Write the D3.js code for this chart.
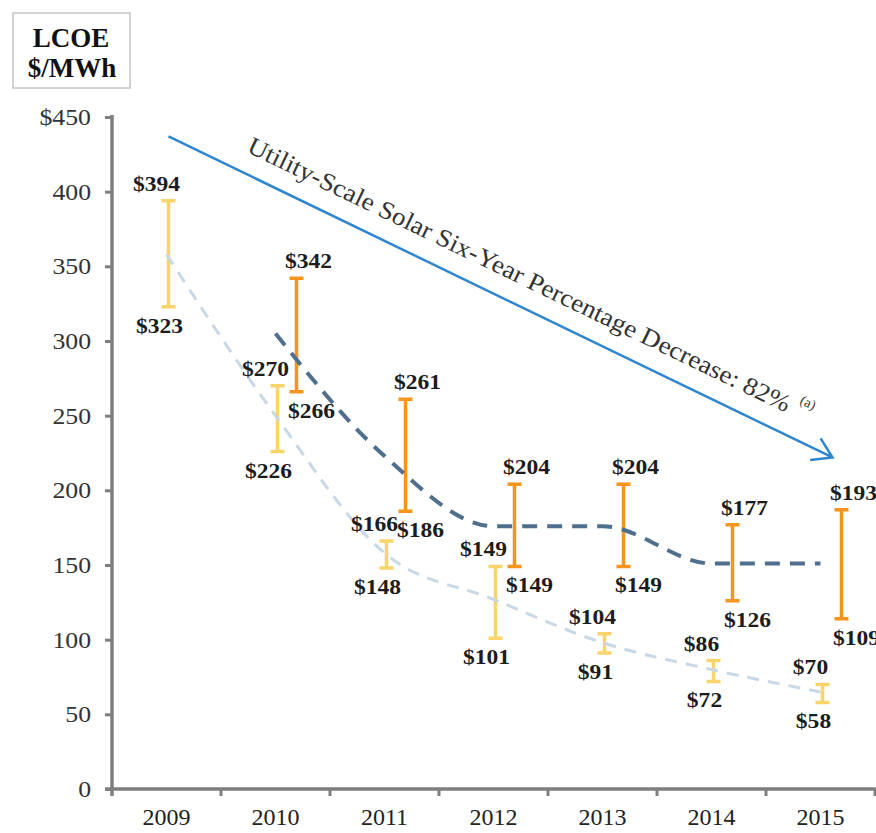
<!DOCTYPE html>
<head>
<meta charset="utf-8">
<script src="https://d3js.org/d3.v7.min.js"></script>
</head>
<style>
body { margin: 0; background: #fff; }
text { font-family: "Liberation Serif", "Times New Roman", serif; }
.lbl { font-weight: bold; font-size: 21px; fill: #1c1c1c; }
.tick text { font-size: 23px; fill: #333; }
.xaxis .tick text { font-size: 24px; fill: #222; }
.bar { stroke-width: 3.5px; fill: none; }
#yellow .bar { stroke: #f9d46a; }
#orange .bar { stroke: #f7941d; }
.trend { fill: none; }
#lightline { stroke: #c8d8e6; stroke-width: 3px; stroke-dasharray: 12 9; }
#darkline { stroke: #4f6f8c; stroke-width: 4px; stroke-dasharray: 15 10; }
</style>
<body>
<script>
var years = ["2009", "2010", "2011", "2012", "2013", "2014", "2015"];
// bar ends as drawn
var yellowHigh = [394, 270, 166, 149, 104, 86, 70];
var yellowLow  = [323, 226, 148, 101, 91, 72, 58];
var orangeHigh = [null, 342, 261, 204, 204, 177, 187];
var orangeLow  = [null, 266, 186, 149, 149, 126, 114];
// printed labels
var yellowHighText = ["$394", "$270", "$166", "$149", "$104", "$86", "$70"];
var yellowLowText  = ["$323", "$226", "$148", "$101", "$91", "$72", "$58"];
var orangeHighText = [null, "$342", "$261", "$204", "$204", "$177", "$193"];
var orangeLowText  = [null, "$266", "$186", "$149", "$149", "$126", "$109"];
// dashed trend lines
var lightTrend = [358, 250, 158, 127, 98, 80, 65];
var darkTrend  = [null, 305, 223, 176, 176, 151, 151];
var yTicks = [0, 50, 100, 150, 200, 250, 300, 350, 400, 450];
var yTickText = ["0", "50", "100", "150", "200", "250", "300", "350", "400", "$450"];
var arrowNote = "Utility-Scale Solar Six-Year Percentage Decrease: 82%";

var margin = {top: 117, right: 0, bottom: 44, left: 112},
    width = 876 - margin.left - margin.right,
    height = 833 - margin.top - margin.bottom;

var x = d3.scaleBand().domain(years).range([0, 763]);
var y = d3.scaleLinear().domain([0, 450]).range([height, 0]);
function cx(i) { return x(years[i]) + x.bandwidth() / 2; }

function widen(sel, k) {
  sel.each(function() {
    var L = this.getComputedTextLength();
    if (L > 0) d3.select(this).attr("textLength", L * k).attr("lengthAdjust", "spacingAndGlyphs");
  });
}

var root = d3.select("body").append("svg")
    .attr("width", 876)
    .attr("height", 833);

// LCOE box
root.append("rect")
    .attr("x", 13).attr("y", 13).attr("width", 117).attr("height", 75)
    .attr("fill", "none").attr("stroke", "#c4c4c4").attr("stroke-width", 1.5);
root.append("text").attr("x", 71).attr("y", 47).attr("text-anchor", "middle")
    .style("font-weight", "bold").style("font-size", "27px").attr("fill", "#111").text("LCOE");
root.append("text").attr("x", 72).attr("y", 77).attr("text-anchor", "middle")
    .style("font-weight", "bold").style("font-size", "27px").attr("fill", "#111").text("$/MWh");

var svg = root.append("g")
    .attr("transform", "translate(" + margin.left + "," + margin.top + ")");

// axes
var yAxis = svg.append("g")
    .call(d3.axisLeft(y).tickValues(yTicks).tickFormat(function(d, i) { return yTickText[i]; })
      .tickSize(7).tickPadding(14));
yAxis.select(".domain").remove();
yAxis.selectAll(".tick line").attr("stroke", "#7f7f7f").attr("stroke-width", 3);
widen(yAxis.selectAll(".tick text"), 1.12);

var xAxis = svg.append("g").attr("class", "xaxis")
    .attr("transform", "translate(0," + height + ")")
    .call(d3.axisBottom(x).tickSize(0).tickPadding(19));
xAxis.select(".domain").remove();
xAxis.selectAll(".tick")
  .append("line")
    .attr("x1", x.bandwidth() / 2).attr("x2", x.bandwidth() / 2)
    .attr("y1", 0).attr("y2", 7)
    .attr("stroke", "#7f7f7f").attr("stroke-width", 3);

svg.append("line")
    .attr("x1", 0).attr("x2", 0).attr("y1", -2).attr("y2", height + 7)
    .attr("stroke", "#7f7f7f").attr("stroke-width", 3.5);
svg.append("line")
    .attr("x1", -7).attr("x2", width).attr("y1", height).attr("y2", height)
    .attr("stroke", "#7f7f7f").attr("stroke-width", 3.5);

// error bars
function drawBars(id, lows, highs, dx) {
  var g = svg.append("g").attr("id", id);
  var idx = d3.range(years.length).filter(function(i) { return highs[i] != null; });
  var cap = 7;
  g.selectAll("path").data(idx).enter().append("path")
      .attr("class", "bar")
      .attr("d", function(i) {
        var bx = cx(i) + dx, t = y(highs[i]), b = y(lows[i]);
        return "M" + (bx - cap) + "," + t + "H" + (bx + cap) +
               "M" + bx + "," + t + "V" + b +
               "M" + (bx - cap) + "," + b + "H" + (bx + cap);
      });
  return idx;
}
var yIdx = drawBars("yellow", yellowLow, yellowHigh, 2);
var oIdx = drawBars("orange", orangeLow, orangeHigh, 21);

// trend lines
var line = d3.line()
    .x(function(d) { return cx(d.i); })
    .y(function(d) { return y(d.v); })
    .curve(d3.curveMonotoneX);
svg.append("path").attr("class", "trend").attr("id", "lightline")
    .datum(lightTrend.map(function(v, i) { return {i: i, v: v}; }))
    .attr("d", line);
svg.append("path").attr("class", "trend").attr("id", "darkline")
    .datum(darkTrend.map(function(v, i) { return {i: i, v: v}; }).filter(function(d) { return d.v != null; }))
    .attr("d", line);

// value labels
function drawLabels(idx, vals, texts, dx, dy) {
  var t = svg.append("g").selectAll("text").data(idx).enter().append("text")
      .attr("class", "lbl")
      .attr("text-anchor", "middle")
      .attr("x", function(i) { return cx(i) + dx; })
      .attr("y", function(i) { return y(vals[i]) + dy; })
      .text(function(i) { return texts[i]; });
  widen(t, 1.12);
}
drawLabels(yIdx, yellowHigh, yellowHighText, -10, -10);
drawLabels(yIdx, yellowLow, yellowLowText, -7, 26);
drawLabels(oIdx, orangeHigh, orangeHighText, 33, -10);
drawLabels(oIdx, orangeLow, orangeLowText, 36, 26);

// trend arrow
var ax0 = cx(0) + 2, ay0 = y(437), ax1 = cx(6) + 12, ay1 = y(222);
var ang = Math.atan2(ay1 - ay0, ax1 - ax0);
var len = Math.hypot(ax1 - ax0, ay1 - ay0);
var arrow = svg.append("g")
    .attr("transform", "translate(" + ax0 + "," + ay0 + ") rotate(" + (ang * 180 / Math.PI) + ")");
arrow.append("path")
    .attr("d", "M0,0H" + len + "M" + (len - 19) + "," + (-12) + "L" + len + ",0L" + (len - 19) + "," + 12)
    .attr("fill", "none").attr("stroke", "#2f86cf").attr("stroke-width", 2.5);
arrow.append("text")
    .attr("x", 76).attr("y", -20)
    .attr("textLength", 600).attr("lengthAdjust", "spacingAndGlyphs")
    .style("font-size", "25px").attr("fill", "#333")
    .text(arrowNote);
arrow.append("text")
    .attr("x", 684).attr("y", -34)
    .style("font-size", "14px").attr("fill", "#333")
    .text("(a)");
</script>
</body>
